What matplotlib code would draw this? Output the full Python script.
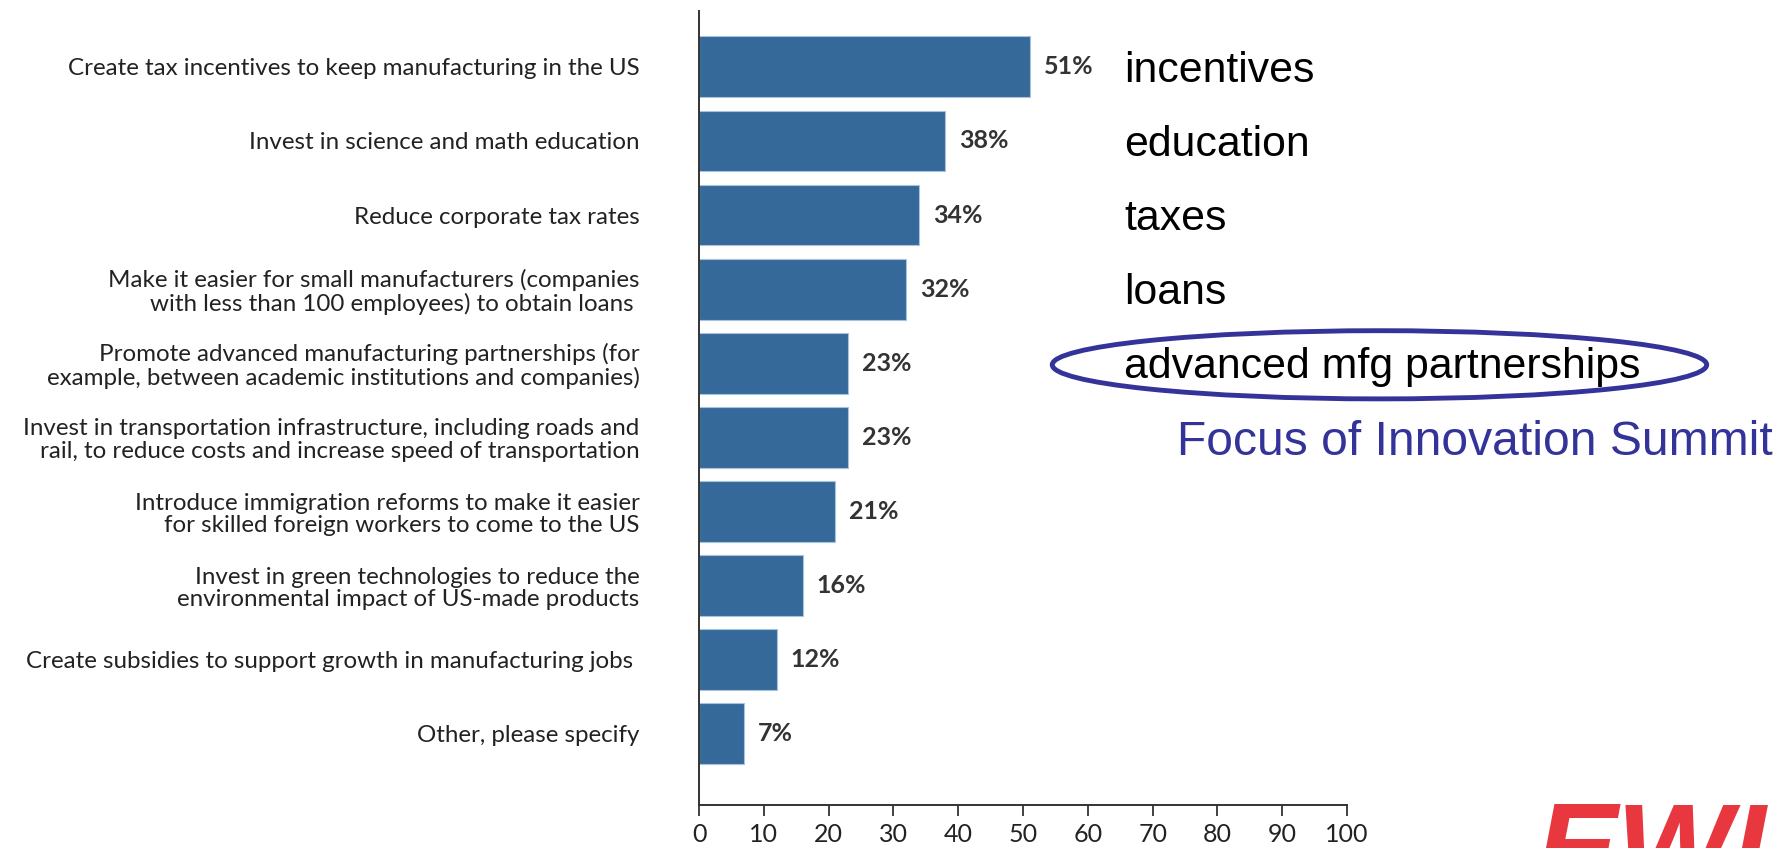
import matplotlib.pyplot as plt
from matplotlib.patches import Ellipse

# Survey answers, top to bottom
labels = [
    "Create tax incentives to keep manufacturing in the US",
    "Invest in science and math education",
    "Reduce corporate tax rates",
    "Make it easier for small manufacturers (companies\nwith less than 100 employees) to obtain loans ",
    "Promote advanced manufacturing partnerships (for\nexample, between academic institutions and companies)",
    "Invest in transportation infrastructure, including roads and\nrail, to reduce costs and increase speed of transportation",
    "Introduce immigration reforms to make it easier\nfor skilled foreign workers to come to the US",
    "Invest in green technologies to reduce the\nenvironmental impact of US-made products",
    "Create subsidies to support growth in manufacturing jobs ",
    "Other, please specify",
]
values = [51, 38, 34, 32, 23, 23, 21, 16, 12, 7]

# short names written next to the top rows
notes = ["incentives", "education", "taxes", "loans", "advanced mfg partnerships"]
focus_row = 4
summit_text = "Focus of Innovation Summit"

bar_color = "#35699a"
note_blue = "#333399"
ge_font = "Lato"

fig = plt.figure(figsize=(17.88, 8.48), dpi=100)
ax = fig.add_axes([0.391, 0.0507, 0.3624, 0.936])

y = list(range(len(values)))
ax.barh(y, values, height=0.82, color=bar_color, edgecolor="#a9c3dd", linewidth=0.8)

for yi, v in zip(y, values):
    ax.annotate(f"{v}%", (v, yi), xytext=(10, 0), textcoords="offset points",
                va="center", ha="left", fontsize=18, fontweight="bold",
                family=ge_font, color="#333333")

ax.set_xlim(0, 100)
ax.set_ylim(9.96, -0.75)
ax.set_xticks(range(0, 101, 10))
ax.set_yticks(y)
ax.set_yticklabels(labels, family=ge_font, fontsize=17.4, color="#222222",
                   linespacing=1.1)
for t in ax.get_xticklabels():
    t.set_family(ge_font)
    t.set_fontsize(18)
    t.set_color("#222222")
ax.tick_params(axis="y", length=0, pad=43)
ax.tick_params(axis="x", length=8, width=1.3, color="#333333", pad=5)

for side in ["top", "right"]:
    ax.spines[side].set_visible(False)
for side in ["left", "bottom"]:
    ax.spines[side].set_color("#333333")
    ax.spines[side].set_linewidth(1.4)

# right-hand notes, one per row
for i, n in enumerate(notes):
    ax.text(65.6, i + 0.05, n, va="center", ha="left", fontsize=30.8,
            family="Liberation Sans", color="black", clip_on=False)

ring = Ellipse((105, focus_row + 0.02), width=101, height=0.92, fill=False,
               edgecolor=note_blue, linewidth=3.5, clip_on=False)
ax.add_patch(ring)

ax.text(73.8, focus_row + 1.07, summit_text, va="center", ha="left", fontsize=34.6,
        family="Liberation Sans", color=note_blue, clip_on=False)

# logo in the corner, cut off by the page edge
fig.text(1536 / 1788, 1 - 800 / 848, "EWI", ha="left", va="top",
         fontsize=88, fontweight="bold", fontstyle="italic",
         family="Liberation Sans", color="#e8373f")

fig.savefig("out.png", dpi=100)
